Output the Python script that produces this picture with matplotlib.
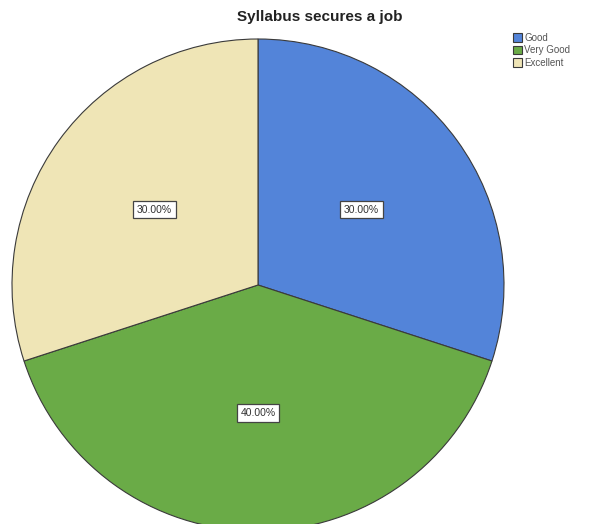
import matplotlib

matplotlib.use("Agg")
import matplotlib.pyplot as plt

categories = ["Good", "Very Good", "Excellent"]
shares = [30.0, 40.0, 30.0]
colors = ["#5384d9", "#6aab47", "#efe5b6"]

plt.rcParams["font.family"] = ["Liberation Sans", "DejaVu Sans"]

fig = plt.figure(figsize=(5.92, 5.24), dpi=100)
fig.patch.set_facecolor("white")

# pie centred at ~(258, 285) px with radius ~246 px
cx, cy, r = 258, 524 - 285, 246
ax = fig.add_axes([(cx - r) / 592, (cy - r) / 524, 2 * r / 592, 2 * r / 524])

wedges, texts = ax.pie(
    shares,
    colors=colors,
    startangle=90,
    counterclock=False,
    labels=[f"{v:.2f}%" for v in shares],
    labeldistance=0.52,
    wedgeprops={"edgecolor": "#3a3a3a", "linewidth": 0.8},
    textprops={"fontsize": 7.5, "color": "#333333"},
)
for t in texts:
    t.set_ha("center")
    t.set_va("center")
    t.set_bbox({"boxstyle": "square,pad=0.35", "facecolor": "white",
                "edgecolor": "#444444", "linewidth": 0.9})
ax.set_xlim(-1, 1)
ax.set_ylim(-1, 1)
ax.set_aspect("auto")
ax.set_axis_off()

fig.text(320 / 592, 1 - 17 / 524, "Syllabus secures a job", ha="center",
         va="center", fontsize=11, fontweight="bold", color="#222222")

leg = fig.legend(wedges, categories, loc="upper left",
                 bbox_to_anchor=(508 / 592, 1 - 28 / 524), frameon=False,
                 fontsize=7, handlelength=0.9, handleheight=1.0,
                 handletextpad=0.25, labelspacing=0.25, borderpad=0)
for txt in leg.get_texts():
    txt.set_color("#555555")

fig.savefig("out.png", dpi=100)
